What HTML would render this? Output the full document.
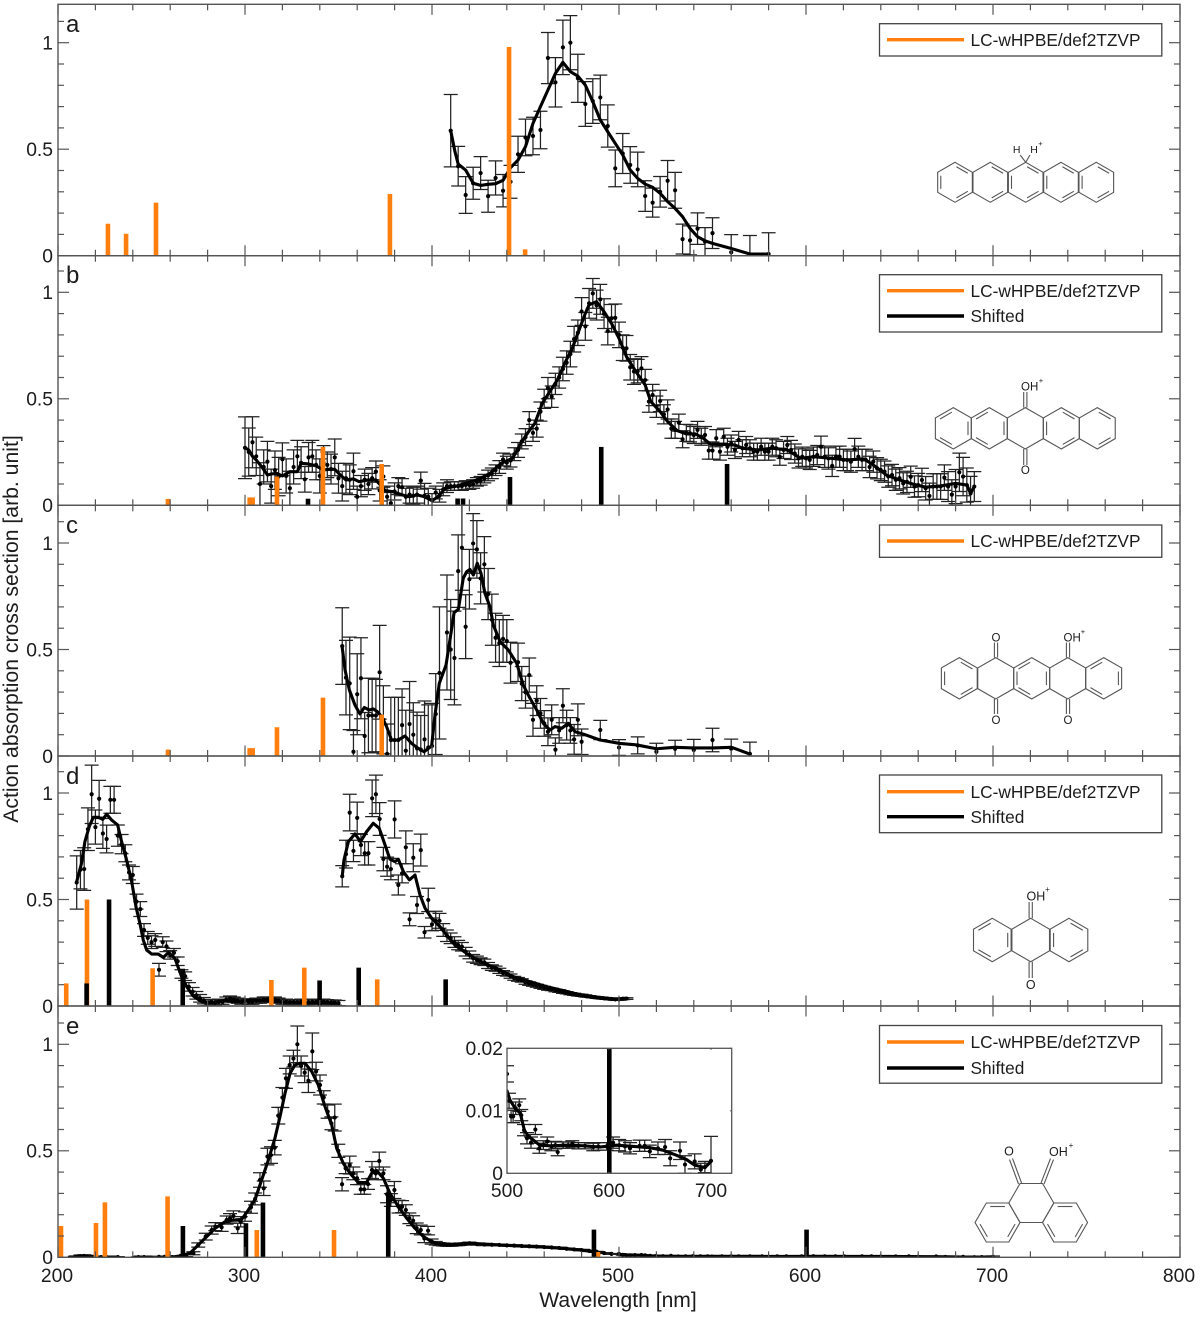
<!DOCTYPE html>
<html lang="en">
<head>
<meta charset="utf-8">
<title>Action absorption spectra</title>
<style>
html,body{margin:0;padding:0;background:#fff;}
svg{display:block;font-family:"Liberation Sans",Arial,sans-serif;}
text{fill:#1c1c1c;}
</style>
</head>
<body>
<svg id="chart" xmlns="http://www.w3.org/2000/svg" width="1200" height="1317" viewBox="0 0 1200 1317">
<rect x="0" y="0" width="1200" height="1317" fill="#fff"/>
<defs id="clips"></defs>
<g id="panels"></g>
<g id="inset"></g>
<g id="axes"></g>

<text transform="translate(18,629) rotate(-90)" text-anchor="middle" font-size="21.2">Action absorption cross section [arb. unit]</text>
<text x="618" y="1307" text-anchor="middle" font-size="21.1">Wavelength [nm]</text>

<text x="66" y="32" font-size="24">a</text>
<text x="66" y="283" font-size="24">b</text>
<text x="66" y="533" font-size="24">c</text>
<text x="66" y="784" font-size="24">d</text>
<text x="66" y="1034" font-size="24">e</text>

<g>
<rect x="879.5" y="23.7" width="282.3" height="32.3" fill="#fff" stroke="#444" stroke-width="1.3"/>
<line x1="887" x2="964" y1="39.7" y2="39.7" stroke="#ff7f0e" stroke-width="3.4"/>
<text x="970.5" y="45.8" font-size="17.3">LC-wHPBE/def2TZVP</text>
</g>
<g>
<rect x="879.5" y="274.7" width="282.3" height="57.3" fill="#fff" stroke="#444" stroke-width="1.3"/>
<line x1="887" x2="964" y1="290.7" y2="290.7" stroke="#ff7f0e" stroke-width="3.4"/>
<text x="970.5" y="296.8" font-size="17.3">LC-wHPBE/def2TZVP</text>
<line x1="887" x2="964" y1="316" y2="316" stroke="#000" stroke-width="3.4"/>
<text x="970.5" y="322.1" font-size="17.3">Shifted</text>
</g>
<g>
<rect x="879.5" y="525" width="282.3" height="32.3" fill="#fff" stroke="#444" stroke-width="1.3"/>
<line x1="887" x2="964" y1="541" y2="541" stroke="#ff7f0e" stroke-width="3.4"/>
<text x="970.5" y="547.1" font-size="17.3">LC-wHPBE/def2TZVP</text>
</g>
<g>
<rect x="879.5" y="775" width="282.3" height="57.7" fill="#fff" stroke="#444" stroke-width="1.3"/>
<line x1="887" x2="964" y1="791.7" y2="791.7" stroke="#ff7f0e" stroke-width="3.4"/>
<text x="970.5" y="797.8" font-size="17.3">LC-wHPBE/def2TZVP</text>
<line x1="887" x2="964" y1="816.7" y2="816.7" stroke="#000" stroke-width="3.4"/>
<text x="970.5" y="822.8" font-size="17.3">Shifted</text>
</g>
<g>
<rect x="879.5" y="1025.5" width="282.3" height="57.7" fill="#fff" stroke="#444" stroke-width="1.3"/>
<line x1="887" x2="964" y1="1042" y2="1042" stroke="#ff7f0e" stroke-width="3.4"/>
<text x="970.5" y="1048.1" font-size="17.3">LC-wHPBE/def2TZVP</text>
<line x1="887" x2="964" y1="1068" y2="1068" stroke="#000" stroke-width="3.4"/>
<text x="970.5" y="1074.1" font-size="17.3">Shifted</text>
</g>

<g id="mol-a" fill="none" stroke="#555" stroke-width="1.1">
<text x="1016.7" y="153.2" text-anchor="middle" font-size="10.5" stroke="none">H</text>
<text x="1034" y="153.2" text-anchor="middle" font-size="10.5" stroke="none">H</text>
<text x="1040.5" y="146" text-anchor="middle" font-size="7.5" stroke="none">+</text>
</g>
<g id="mol-b" fill="none" stroke="#555" stroke-width="1.1">
<text x="1021" y="390.5" font-size="11.5" stroke="none">OH</text>
<text x="1041" y="383" text-anchor="middle" font-size="7.5" stroke="none">+</text>
<text x="1025.3" y="474.2" text-anchor="middle" font-size="11.5" stroke="none">O</text>
</g>
<g id="mol-c" fill="none" stroke="#555" stroke-width="1.1">
<text x="996" y="641.5" text-anchor="middle" font-size="11.5" stroke="none">O</text>
<text x="1063.5" y="641.5" font-size="11.5" stroke="none">OH</text>
<text x="1083" y="634" text-anchor="middle" font-size="7.5" stroke="none">+</text>
<text x="996" y="724.2" text-anchor="middle" font-size="11.5" stroke="none">O</text>
<text x="1068" y="724.2" text-anchor="middle" font-size="11.5" stroke="none">O</text>
</g>
<g id="mol-d" fill="none" stroke="#555" stroke-width="1.1">
<text x="1026.5" y="900.5" font-size="12.5" stroke="none">OH</text>
<text x="1047.5" y="892" text-anchor="middle" font-size="8" stroke="none">+</text>
<text x="1030.7" y="989" text-anchor="middle" font-size="12.5" stroke="none">O</text>
</g>
<g id="mol-e" fill="none" stroke="#555" stroke-width="1.1">
<text x="1009" y="1155.5" text-anchor="middle" font-size="12.5" stroke="none">O</text>
<text x="1049" y="1156" font-size="12.5" stroke="none">OH</text>
<text x="1071" y="1148" text-anchor="middle" font-size="8" stroke="none">+</text>
</g>
</svg>

<script>
/* ---------- panel a ---------- */
const aWl=[410,414,418,422,426,430,434,438,442,446,450,454,458,462,466,470,474,478,482,486,490,494,498,502,506,510,514,518,522,526,530,534,538,542,546,550,560,570,580];
const aVal=[.587,.42,.285,.34,.388,.279,.365,.305,.347,.476,.555,.562,.59,.928,.814,.978,1,.833,.712,.726,.743,.609,.41,.48,.426,.405,.28,.249,.3,.352,.307,.078,.072,.127,.066,.106,.016,0,.008];
const aErr=[.17,.093,.086,.075,.077,.075,.08,.076,.077,.085,.086,.088,.088,.12,.116,.128,.127,.113,.105,.105,.105,.099,.086,.094,.086,.081,.072,.068,.072,.095,.084,.07,.068,.074,.066,.072,.083,.095,.1];
const aSmoothWl=[410,412.3,414,418,422,426,430,434,438,442,446,450,454,458,462,466,470,474,478,482,486,490,494,498,502,506,510,514,518,522,526,530,534,538,542,546,550,560,570,580];
const aSmooth=[.587,.488,.43,.402,.34,.33,.335,.338,.354,.413,.449,.512,.621,.7,.778,.856,.908,.864,.843,.801,.723,.637,.582,.527,.473,.402,.363,.336,.321,.293,.254,.222,.183,.128,.089,.07,.058,.034,.008,.008];
const aOrangeWl=[226.7,236.4,252.4,377.5,441.2,449.8];
const aOrange=[.15,.103,.249,.29,.98,.03];
const aBlackWl=[];
const aBlack=[];

/* ---------- panel b ---------- */
const bWl=[300,302,304,306,308,310,312,314,316,318,320,322,324,326,328,330,332,334,336,338,340,342,344,346,348,350,352,354,356,358,360,362,364,366,368,370,372,374,376,378,380,382,384,386,388,390,392,394,396,398,400,402,404,406,408,410,412,414,416,418,420,422,424,426,428,430,432,434,436,438,440,442,444,446,448,450,452,454,456,458,460,462,464,466,468,470,472,474,476,478,480,482,484,486,488,490,492,494,496,498,500,502,504,506,508,510,512,514,516,518,520,522,524,526,528,530,532,534,536,538,540,542,544,546,548,550,552,554,556,558,560,562,564,566,568,570,572,574,576,578,580,582,584,586,588,590,592,594,596,598,600,602,604,606,608,610,612,614,616,618,620,622,624,626,628,630,632,634,636,638,640,642,644,646,648,650,652,654,656,658,660,662,664,666,668,670,672,674,676,678,680,682,684,686,688,690];
const bVal=[.27,.25,.296,.23,.1,.18,.205,.09,.165,.135,.216,.138,.08,.18,.23,.2,.122,.225,.23,.19,.138,.2,.19,.17,.225,.127,.09,.127,.12,.16,.04,.09,.12,.1,.127,.158,.07,.135,.04,.01,.065,.09,.085,.04,.05,.045,.05,.116,.045,.04,.025,.06,.045,.075,.09,.09,.09,.09,.09,.095,.095,.1,.11,.115,.125,.14,.15,.165,.18,.215,.2,.21,.24,.26,.3,.32,.4,.34,.36,.44,.5,.55,.51,.57,.6,.64,.67,.71,.78,.81,.91,.84,.948,.995,.94,.967,.9,.818,.878,.88,.8,.74,.737,.648,.628,.63,.643,.588,.487,.518,.463,.49,.427,.45,.36,.354,.388,.31,.34,.338,.33,.354,.322,.33,.257,.257,.315,.252,.322,.275,.29,.26,.307,.268,.283,.268,.252,.252,.275,.252,.252,.275,.268,.228,.26,.283,.26,.243,.22,.228,.22,.213,.228,.236,.275,.228,.22,.185,.228,.228,.213,.213,.205,.264,.228,.213,.213,.18,.205,.174,.166,.158,.135,.142,.12,.127,.103,.11,.134,.088,.095,.119,.08,.044,.088,.088,.088,.13,.088,.05,.088,.155,.135,.095,.056,.088];
const bErr=[.145,.113,.12,.09,.1,.08,.095,.08,.09,.09,.077,.08,.08,.08,.075,.075,.06,.07,.075,.07,.08,.08,.06,.07,.086,.07,.07,.07,.07,.085,.05,.05,.05,.05,.05,.05,.05,.05,.05,.05,.04,.04,.04,.04,.04,.04,.04,.04,.058,.04,.03,.03,.03,.03,.03,.02,.02,.02,.02,.02,.02,.02,.02,.02,.02,.025,.025,.025,.03,.03,.03,.03,.03,.035,.035,.04,.04,.04,.04,.045,.045,.05,.05,.05,.05,.055,.055,.06,.06,.06,.065,.065,.07,.07,.07,.07,.07,.065,.065,.065,.06,.06,.06,.06,.06,.055,.055,.05,.05,.05,.05,.05,.045,.045,.045,.04,.04,.04,.04,.04,.04,.04,.04,.04,.04,.04,.04,.04,.04,.04,.04,.04,.04,.04,.04,.04,.04,.04,.04,.04,.04,.04,.04,.04,.04,.04,.045,.045,.045,.045,.045,.045,.045,.045,.05,.05,.05,.05,.05,.05,.05,.05,.05,.05,.05,.05,.05,.05,.05,.05,.05,.05,.05,.05,.05,.05,.05,.05,.05,.05,.055,.055,.055,.06,.06,.06,.06,.06,.07,.07,.08,.09,.09,.08,.08,.07];
const bSmoothWl=[300,302,304,306,309,312,314,317,320,324,328,330,334,338,342,345,348,351,354,358,361,366,370,375,379,384,388,392,396,400,403,407,413,418,424,431,437,443,447,451,455,459,463,467,471,475,479,482,484,488,492,496,500,504,509,514,517,522,526,531,536,541,545,549,556,562,566,574,582,590,597,604,613,622,631,636,643,650,657,664,672,680,686,688,690];
const bSmooth=[.27,.26,.23,.213,.18,.142,.147,.15,.138,.158,.158,.197,.194,.185,.166,.169,.169,.142,.119,.124,.111,.119,.119,.069,.064,.049,.04,.049,.04,.022,.038,.08,.09,.103,.119,.15,.197,.22,.283,.338,.385,.479,.534,.588,.667,.737,.831,.901,.941,.956,.909,.854,.784,.698,.628,.565,.487,.44,.393,.351,.335,.335,.315,.286,.286,.283,.268,.26,.268,.26,.221,.228,.221,.213,.218,.189,.142,.119,.1,.085,.091,.103,.095,.056,.088];
const bOrangeWl=[258.8,302.5,304.1,317.1,341.7,373.1];
const bOrange=[.03,.037,.037,.135,.274,.194];
const bBlackWl=[333.7,413.7,416.6,441.7,490.5,557.8];
const bBlack=[.031,.032,.032,.133,.274,.194];

/* ---------- panel c ---------- */
const cWl=[352,354,356,358,360,362,364,366,368,370,372,374,376,378,380,382,384,386,388,390,392,394,396,398,400,402,404,408,410,412,414,416,418,420,422,424,426,428,430,432,434,436,438,440,442,446,448,450,452,454,456,458,460,462,464,466,468,470,472,474,476,478,480,490,500,510,520,530,540,550,560,570];
const cVal=[.516,.368,.341,.02,.29,.365,.094,.19,.19,.19,.393,.17,.01,.075,.075,.075,.145,.025,.15,.1,.036,.03,.078,.04,.047,.197,.39,.58,.5,.46,.868,.978,.607,.83,.998,.97,.834,.9,.76,.64,.555,.53,.55,.54,.438,.44,.34,.3,.38,.17,.26,.2,.153,.114,.17,.03,.12,.236,.145,.12,.078,.17,.067,.122,.04,.05,.02,.034,.028,.075,.034,.01];
const cErr=[.18,.175,.217,.1,.19,.19,.11,.175,.175,.17,.22,.16,.14,.2,.2,.2,.17,.19,.2,.15,.17,.16,.18,.2,.2,.19,.31,.27,.235,.22,.17,.2,.15,.14,.14,.135,.12,.13,.12,.12,.115,.11,.11,.1,.096,.09,.08,.075,.08,.077,.07,.07,.06,.065,.07,.055,.06,.08,.07,.06,.07,.075,.06,.045,.037,.04,.04,.04,.05,.055,.045,.055];
const cSmoothWl=[351.9,353.5,355.8,358.8,361.5,363.8,366.3,368.6,370.8,373.1,375.7,378.4,381.9,385.6,389.1,391.8,395.7,399.8,401.6,403.9,407.5,409.6,411.8,414.1,416.7,418.5,420.3,422.1,424.2,426.2,428.3,431,432.8,436.4,440.8,445.3,448.8,452.4,456,459.5,463.1,465.8,469.3,472.9,476.5,480.9,489.8,500.5,509.4,520.1,529.9,539.7,550.4,560.2,570];
const cSmooth=[.516,.404,.31,.239,.197,.228,.216,.221,.208,.185,.138,.075,.075,.094,.059,.041,.02,.047,.192,.341,.427,.545,.673,.689,.834,.865,.876,.85,.905,.858,.764,.701,.615,.537,.498,.435,.333,.271,.216,.153,.122,.138,.13,.153,.114,.103,.075,.059,.052,.034,.041,.038,.038,.041,.009];
const cOrangeWl=[258.8,302.5,304.1,317.1,341.7,373.1];
const cOrange=[.03,.037,.037,.135,.274,.194];
const cBlackWl=[];
const cBlack=[];

/* ---------- panel d (two measured ranges) ---------- */
const dWl=[210,212,214,216,218,220,222,224,226,228,230,232,234,236,238,240,242,244,246,248,250,252,254,256,258,260,262,264,266,268,270,272,274,276,278,280,282,284,286,288,290,292,294,296,298,300,302,304,306,308,310,312,314,316,318,320,322,324,326,328,330,332,334,336,338,340,342,344,346,348,350];
const dVal=[.58,.64,.643,.83,.994,.84,.973,.81,.784,.968,.968,.8,.76,.717,.627,.615,.49,.455,.357,.32,.3,.31,.17,.3,.28,.24,.25,.21,.15,.14,.09,.067,.05,.036,.025,.016,.018,.016,.02,.02,.03,.035,.03,.025,.02,.022,.02,.02,.025,.025,.03,.03,.028,.03,.025,.02,.02,.018,.018,.018,.02,.018,.018,.02,.02,.02,.02,.018,.016,.016,.014];
const dErr=[.125,.09,.1,.1,.137,.08,.086,.07,.065,.063,.063,.05,.045,.04,.035,.04,.035,.035,.03,.03,.03,.03,.03,.025,.025,.02,.02,.02,.02,.02,.02,.02,.018,.018,.015,.015,.012,.012,.012,.012,.012,.012,.012,.012,.012,.012,.012,.012,.012,.012,.012,.012,.012,.012,.012,.012,.012,.012,.012,.012,.012,.012,.012,.012,.012,.012,.012,.012,.012,.012,.012];
const dSmoothWl=[210,212.6,214.4,216.7,218.9,221.5,223.9,226,228.7,231.9,234,236.7,239.4,241.7,243.8,245.6,247.4,250.1,253.6,256.3,259,262.5,266.1,268.8,272.3,276.8,283,288.4,295.5,302.7,311.6,320.5,331.2,341.9,350];
const dSmooth=[.584,.67,.772,.842,.886,.886,.876,.9,.873,.85,.772,.685,.584,.466,.388,.31,.263,.244,.244,.228,.25,.224,.138,.091,.047,.02,.016,.025,.02,.028,.025,.019,.016,.016,.014];
const d2Wl=[352,354,356,358,360,362,364,366,368,370,372,374,376,378,380,382,384,386,388,390,392,394,396,398,400,402,404,406,408,410,412,414,416,418,420,422,424,426,428,430,432,434,436,438,440,442,444,446,448,450,452,454,456,458,460,462,464,466,468,470,472,474,476,478,480,482,484,486,488,490,492,494,496,498,500,502,504];
const d2Val=[.609,.713,.908,.728,.883,.756,.717,.717,.975,.994,.878,.69,.654,.643,.876,.568,.623,.745,.407,.696,.474,.732,.346,.498,.383,.4,.4,.357,.33,.318,.3,.286,.278,.255,.24,.224,.217,.21,.205,.19,.18,.175,.165,.155,.15,.14,.13,.125,.12,.11,.105,.1,.095,.09,.085,.08,.078,.073,.07,.065,.062,.058,.055,.052,.05,.047,.045,.042,.04,.038,.036,.035,.033,.031,.031,.034,.035];
const d2Err=[.05,.065,.086,.05,.074,.05,.055,.055,.086,.09,.077,.055,.045,.05,.087,.047,.045,.077,.03,.066,.04,.075,.027,.055,.03,.045,.035,.03,.027,.025,.025,.022,.02,.02,.018,.018,.017,.016,.015,.014,.013,.012,.012,.011,.01,.01,.009,.009,.008,.008,.008,.007,.007,.007,.007,.006,.006,.006,.006,.006,.005,.005,.005,.005,.005,.005,.004,.004,.004,.004,.004,.004,.004,.004,.004,.004,.004];
const d2SmoothWl=[352,352.9,355.3,358.8,361.8,365,368.6,371.8,374.9,377.5,380.2,382,384.7,387.9,390.9,393.6,396.3,399.8,404.3,407.8,412.3,418.5,425.7,434.6,443.5,452.4,461.3,470.2,480.9,491.6,497,503.2];
const d2Smooth=[.609,.685,.772,.808,.772,.818,.858,.834,.756,.689,.678,.689,.631,.592,.615,.521,.459,.412,.372,.333,.286,.247,.208,.177,.138,.114,.091,.072,.049,.036,.031,.036];
const dOrangeWl=[204.4,215.5,250.6,314.1,331.7,370.7];
const dOrange=[.106,.5,.177,.122,.18,.125];
const dBlackWl=[215.3,227.3,266.7,339.9,360.8,407.3];
const dBlack=[.106,.5,.175,.12,.18,.125];

/* ---------- panel e ---------- */
const eWl=[210,212,214,216,218,223,226,232,243,246,254,257,261,264,268.5,272.4,275,279,282.2,284.1,287.5,290.2,292,293.8,296.1,297.7,300,303.2,305.4,308,310,312,313.9,315.9,317.8,320,321.9,323.9,325.9,328,330,331.9,333.9,336,338,340.1,342.1,344.2,346.2,348,349.9,351.9,353.8,356,357.9,359.9,361.9,363.8,365.8,367.9,369.9,371.8,374,376,378,379.9,382.1,384,386,387.9,389.9,391.8,394,395.9,397.9,399.8,402,404,406,408,410,412,414,416,418,420,424,428,432,436,440,444,448,452,456,460,464,468,472,476,480,484,488,492,496];
const eVal=[.002,.005,.006,.004,.002,.001,.001,.001,.001,.001,.002,.002,.001,.002,.008,.019,.058,.097,.128,.144,.141,.175,.183,.194,.136,.167,.191,.235,.274,.363,.324,.473,.48,.515,.665,.75,.84,.903,.933,1,.898,.867,.829,.967,.872,.809,.751,.684,.629,.656,.5,.343,.418,.433,.394,.371,.319,.319,.344,.41,.394,.452,.394,.296,.269,.316,.238,.238,.222,.183,.172,.136,.128,.089,.125,.074,.066,.062,.06,.058,.058,.06,.06,.062,.063,.066,.062,.06,.059,.058,.056,.055,.053,.052,.05,.048,.046,.044,.04,.037,.034,.03,.026,.02,.016];
const eErr=[.004,.006,.006,.005,.004,.002,.002,.002,.002,.002,.003,.003,.002,.003,.005,.007,.01,.016,.019,.019,.019,.019,.022,.024,.024,.024,.022,.028,.028,.034,.034,.039,.039,.034,.039,.047,.047,.042,.039,.086,.047,.047,.055,.086,.044,.047,.031,.031,.03,.063,.031,.031,.025,.042,.03,.03,.023,.023,.025,.04,.03,.042,.03,.04,.03,.04,.03,.028,.025,.025,.023,.025,.023,.02,.02,.012,.008,.007,.007,.006,.006,.006,.005,.005,.005,.005,.005,.005,.004,.004,.004,.004,.004,.004,.004,.004,.003,.003,.003,.003,.003,.003,.002,.002,.002];
const eSmoothWl=[206,220,232,null,241,250,null,255,259.9,265.2,270.6,275,279.5,284,289.3,293.8,298.2,301.8,305.4,308.9,312.5,316,318.7,321.4,324.1,326.7,329.4,332.1,335.7,339.2,342.8,346.4,349,352.6,356.2,360.6,365,367.7,370.4,374,377.5,382,386.5,390.9,395.4,399.8,404.3,409.6,415,420.3,440,460,470,480,490];
const eSmooth=[.001,.001,.001,null,.001,.001,null,.001,0,.006,.019,.058,.097,.136,.167,.175,.178,.222,.272,.363,.457,.559,.66,.77,.864,.903,.911,.911,.872,.809,.707,.621,.512,.441,.394,.351,.351,.394,.407,.371,.3,.238,.183,.136,.097,.074,.061,.058,.061,.066,.056,.048,.042,.034,.022];
const eTailWl=[500,502,504,506,508.5,512,514,516.7,519.6,523.5,527.8,531.7,535.6,539.5,543.5,547.4,549.7,555,560,564,570,576.5,584.6,589.5,597.7,604,610,615.7,620.6,630,635,640,648,655,660,669.6,674.5,684,690,694,700];
const eTailVal=[.0159,.0116,.0091,.0091,.0104,.0109,.0093,.0069,.0056,.0049,.007,.004,.0045,.0051,.0043,.0045,.0034,.0045,.0045,.0047,.0044,.0044,.0042,.0043,.0043,.0049,.0045,.0043,.0040,.0044,.0044,.0035,.0040,.0042,.0024,.0036,.0014,.0019,.0006,.001,.002];
const eTailErr=[.0013,.0012,.001,.001,.001,.001,.0009,.0009,.0009,.0009,.0008,.0008,.0007,.0007,.0007,.0006,.0006,.0005,.0005,.0005,.0005,.0005,.0006,.0006,.0006,.0009,.0009,.0009,.0009,.0009,.0009,.001,.001,.0012,.0012,.0014,.0014,.0012,.001,.0009,.0039];
const eTailLineWl=[500,503,508,513,517,521,526,532,542,558.5,575,591,607.5,624,640,653,666,676,684,694,700];
const eTailLine=[.0132,.0117,.0104,.0096,.0069,.0059,.0053,.0045,.0044,.0045,.0044,.0042,.0045,.0043,.0041,.0037,.0029,.0022,.0013,.0009,.0019];
const eOrangeWl=[201.6,220.3,225.1,258.6,306.3,347.6,488.8];
const eOrange=[.147,.161,.258,.286,.128,.128,.025];
const eBlackWl=[266.8,300.5,309.6,376.6,486.6,600.3];
const eBlack=[.147,.16,.257,.3,.13,.13];

/* ---------- axis ticks ---------- */
const xMajorTicks=[200,300,400,500,600,700,800];
const xMinorTicks=[220,240,260,280,320,340,360,380,420,440,460,480,520,540,560,580,620,640,660,680,720,740,760,780];
const yMajorTicks=[0,.5,1];
const yMajorLabels=['0','0.5','1'];
const yMinorTicks=[.1,.2,.3,.4,.6,.7,.8,.9,1.1];
const insetXTicks=[500,600,700];
const insetYTicks=[0,.01,.02];
const insetYLabels=['0','0.01','0.02'];

/* ---------- geometry ---------- */
const NS='http://www.w3.org/2000/svg';
const X0=58,X1=1180,PXNM=1.87,PXUNIT=213;
const panelTops=[4.3,255.7,505.3,756,1006];
const panelBases=[255.7,505.3,756,1006,1257.3];
const sx=w=>X0+(w-200)*PXNM;
const svgRoot=document.getElementById('chart');
const defs=document.getElementById('clips');
const panelsRoot=document.getElementById('panels');
const axesRoot=document.getElementById('axes');
const insetRoot=document.getElementById('inset');

function node(tag,attrs,parent){
  const n=document.createElementNS(NS,tag);
  for(const k in attrs){n.setAttribute(k,attrs[k]);}
  parent.appendChild(n);
  return n;
}
function makeClip(id,x,y,w,h){
  const c=node('clipPath',{id:id},defs);
  node('rect',{x:x,y:y,width:w,height:h},c);
}
function drawErrorBars(parent,wl,val,err,fx,fy,cap){
  for(let i=0;i<wl.length;i++){
    const x=fx(wl[i]),y1=fy(val[i]+err[i]),y2=fy(val[i]-err[i]);
    const d='M'+x+' '+y1+'V'+y2+'M'+(x-cap)+' '+y1+'H'+(x+cap)+'M'+(x-cap)+' '+y2+'H'+(x+cap);
    const el=node('path',{d:d,fill:'none',stroke:'#222','stroke-width':1.25},parent);
    
    
  }
}
function drawDots(parent,wl,val,fx,fy){
  for(let i=0;i<wl.length;i++){
    const el=node('circle',{cx:fx(wl[i]),cy:fy(val[i]),r:2.1,fill:'#000'},parent);
    
    
  }
}
function drawLine(parent,wl,val,fx,fy,width){
  let d='',pen=false;
  for(let i=0;i<wl.length;i++){
    if(wl[i]===null){pen=false;continue;}
    d+=(pen?'L':'M')+fx(wl[i]).toFixed(2)+' '+fy(val[i]).toFixed(2);
    pen=true;
  }
  const el=node('path',{d:d,fill:'none',stroke:'#000','stroke-width':width,'stroke-linejoin':'round','stroke-linecap':'round'},parent);
  
  
}
function drawOrangeBars(parent,wl,val,fx,fy){
  for(let i=0;i<wl.length;i++){
    const top=fy(val[i]);
    const el=node('rect',{x:fx(wl[i])-2.3,y:top,width:4.6,height:fy(0)-top,fill:'#ff7f0e'},parent);
    
    
  }
}
function drawBlackBars(parent,wl,val,fx,fy){
  for(let i=0;i<wl.length;i++){
    const top=fy(val[i]);
    const el=node('rect',{x:fx(wl[i])-2.3,y:top,width:4.6,height:fy(0)-top,fill:'#000'},parent);
    
    
  }
}

const panelData=[
  {series:[[aWl,aVal,aErr,aSmoothWl,aSmooth]],or:[aOrangeWl,aOrange],bl:[aBlackWl,aBlack]},
  {series:[[bWl,bVal,bErr,bSmoothWl,bSmooth]],or:[bOrangeWl,bOrange],bl:[bBlackWl,bBlack]},
  {series:[[cWl,cVal,cErr,cSmoothWl,cSmooth]],or:[cOrangeWl,cOrange],bl:[cBlackWl,cBlack]},
  {series:[[dWl,dVal,dErr,dSmoothWl,dSmooth],[d2Wl,d2Val,d2Err,d2SmoothWl,d2Smooth]],or:[dOrangeWl,dOrange],bl:[dBlackWl,dBlack]},
  {series:[[eWl,eVal,eErr,eSmoothWl,eSmooth],[eTailWl,eTailVal,eTailErr,eTailLineWl,eTailLine]],or:[eOrangeWl,eOrange],bl:[eBlackWl,eBlack]}
];
panelData.forEach((p,idx)=>{
  const base=panelBases[idx],top=panelTops[idx];
  const fy=v=>base-v*PXUNIT;
  makeClip('clip-panel-'+idx,X0,top,X1-X0,base-top);
  const g=node('g',{'clip-path':'url(#clip-panel-'+idx+')'},panelsRoot);
  
  
  p.series.forEach(s=>{
    drawErrorBars(g,s[0],s[1],s[2],sx,fy,7);
    drawDots(g,s[0],s[1],sx,fy);
    drawLine(g,s[3],s[4],sx,fy,3.1);
  });
  drawOrangeBars(g,p.or[0],p.or[1],sx,fy);
  drawBlackBars(g,p.bl[0],p.bl[1],sx,fy);
});

/* ---------- axes ---------- */
function tick(parent,x1,y1,x2,y2){
  const el=node('line',{x1:x1,y1:y1,x2:x2,y2:y2,stroke:'#555','stroke-width':1.2},parent);
  
  
}
panelBases.forEach((base,idx)=>{
  const top=panelTops[idx];
  const frame=node('rect',{x:X0,y:top,width:X1-X0,height:base-top,fill:'none',stroke:'#555','stroke-width':1.4},axesRoot);
  
  
  xMajorTicks.forEach(w=>{tick(axesRoot,sx(w),base,sx(w),base-10.5);tick(axesRoot,sx(w),top,sx(w),top+10.5);});
  xMinorTicks.forEach(w=>{tick(axesRoot,sx(w),base,sx(w),base-6);tick(axesRoot,sx(w),top,sx(w),top+6);});
  yMajorTicks.forEach((v,i)=>{
    const y=base-v*PXUNIT;
    tick(axesRoot,X0,y,X0+11,y);
    tick(axesRoot,X1,y,X1-11,y);
    const t=node('text',{x:53,y:y+6.8,'text-anchor':'end','font-size':19.3},axesRoot);
    t.textContent=yMajorLabels[i];
    
    
  });
  yMinorTicks.forEach(v=>{
    const y=base-v*PXUNIT;
    tick(axesRoot,X0,y,X0+6,y);
    tick(axesRoot,X1,y,X1-6,y);
  });
});
xMajorTicks.forEach(w=>{
  const t=node('text',{x:sx(w)-1,y:1282,'text-anchor':'middle','font-size':19.3},axesRoot);
  t.textContent=String(w);
  
  
});

/* ---------- inset ---------- */
(function(){
  const L=507,R=731.7,T=1048.3,B=1173.3;
  const ix=w=>L+(w-500)*1.02;
  const iy=v=>B-v*6250;
  const bg=node('rect',{x:L,y:T,width:R-L,height:B-T,fill:'#fff'},insetRoot);
  
  
  makeClip('clip-inset',L,T,R-L,B-T);
  const g=node('g',{'clip-path':'url(#clip-inset)'},insetRoot);
  
  
  drawErrorBars(g,eTailWl,eTailVal,eTailErr,ix,iy,7);
  drawDots(g,eTailWl,eTailVal,ix,iy);
  drawLine(g,eTailLineWl,eTailLine,ix,iy,3.1);
  drawBlackBars(g,eBlackWl,eBlack,ix,iy);
  const fr=node('rect',{x:L,y:T,width:R-L,height:B-T,fill:'none',stroke:'#555','stroke-width':1.3},insetRoot);
  
  
  insetXTicks.forEach(w=>{
    tick(insetRoot,ix(w),B,ix(w),B-1.5);
    tick(insetRoot,ix(w),T,ix(w),T+1.5);
    const t=node('text',{x:ix(w),y:1197,'text-anchor':'middle','font-size':19.3},insetRoot);
    t.textContent=String(w);
    
    
  });
  insetYTicks.forEach((v,i)=>{
    tick(insetRoot,L,iy(v),L+1.5,iy(v));
    tick(insetRoot,R,iy(v),R-1.5,iy(v));
    const t=node('text',{x:503,y:iy(v)+6.8,'text-anchor':'end','font-size':19.3},insetRoot);
    t.textContent=insetYLabels[i];
    
    
  });
})();

/* ---------- molecule sketches ---------- */
function ring(g,cx,cy,r,dbl,rot){
  const a0=-90+(rot||0),pts=[];
  for(let i=0;i<6;i++){
    const a=(a0+60*i)*Math.PI/180;
    pts.push([cx+r*Math.cos(a),cy+r*Math.sin(a)]);
  }
  const poly=node('polygon',{points:pts.map(p=>p[0].toFixed(2)+','+p[1].toFixed(2)).join(' ')},g);
  
  
  dbl.forEach(i=>{
    const p=pts[i],q=pts[(i+1)%6],s=.82,t=.1;
    const ax=cx+(p[0]-cx)*s,ay=cy+(p[1]-cy)*s,bx=cx+(q[0]-cx)*s,by=cy+(q[1]-cy)*s;
    const l=node('line',{x1:ax+(bx-ax)*t,y1:ay+(by-ay)*t,x2:bx-(bx-ax)*t,y2:by-(by-ay)*t},g);
    
    
  });
  return pts;
}
function bond(g,x1,y1,x2,y2,dbl){
  const dx=x2-x1,dy=y2-y1,L=Math.hypot(dx,dy),nx=-dy/L*1.6,ny=dx/L*1.6;
  const offs=dbl?[-1,1]:[0];
  offs.forEach(o=>{
    const l=node('line',{x1:x1+nx*o,y1:y1+ny*o,x2:x2+nx*o,y2:y2+ny*o},g);
    
    
  });
}
(function(){
  const ma=document.getElementById('mol-a');
  const ra=20,ya=182.3;
  ring(ma,955,ya,ra,[0,2,4]);
  ring(ma,990.3,ya,ra,[0,2]);
  ring(ma,1025.7,ya,ra,[0,2,4]);
  ring(ma,1061,ya,ra,[0,2,4]);
  ring(ma,1096.3,ya,ra,[0,2,4]);
  bond(ma,1025.7,162.3,1020.2,155,false);
  bond(ma,1025.7,162.3,1030,155,false);

  const mb=document.getElementById('mol-b');
  const rb=20.7,yb=428.3;
  ring(mb,953.3,yb,rb,[5,3,1]);
  ring(mb,989.3,yb,rb,[5,3,1]);
  ring(mb,1025.3,yb,rb,[]);
  ring(mb,1061.3,yb,rb,[4,0,2]);
  ring(mb,1097.3,yb,rb,[0,2]);
  bond(mb,1025.3,yb-rb,1025.3,392,true);
  bond(mb,1025.3,yb+rb,1025.3,465,true);

  const mc=document.getElementById('mol-c');
  const rc=20.7,yc=678.3;
  ring(mc,959.3,yc,rc,[0,2,4]);
  ring(mc,995.7,yc,rc,[]);
  ring(mc,1031.7,yc,rc,[5,3,1,4]);
  ring(mc,1067.7,yc,rc,[]);
  ring(mc,1103.7,yc,rc,[5,3,1]);
  bond(mc,996,yc-rc,996,642.5,true);
  bond(mc,996,yc+rc,996,714,true);
  bond(mc,1068,yc-rc,1068,642.5,true);
  bond(mc,1068,yc+rc,1068,714,true);

  const md=document.getElementById('mol-d');
  const rd=21.7,yd=940;
  ring(md,992.3,yd,rd,[5,3,1]);
  ring(md,1030.7,yd,rd,[]);
  ring(md,1069,yd,rd,[4,0,2]);
  bond(md,1030.7,yd-rd,1030.7,902,true);
  bond(md,1030.7,yd+rd,1030.7,978,true);

  const me=document.getElementById('mol-e');
  const re=22.5,ce=1031.3,ye=1203;
  ring(me,ce,ye,re,[],30);
  ring(me,ce-33.75,ye+19.5,re,[1,3,5],30);
  ring(me,ce+33.75,ye+19.5,re,[1,3,5],30);
  bond(me,ce-11.25,ye-19.5,1011,1159,true);
  bond(me,ce+11.25,ye-19.5,1052,1159,true);
})();
</script>
</body>
</html>
